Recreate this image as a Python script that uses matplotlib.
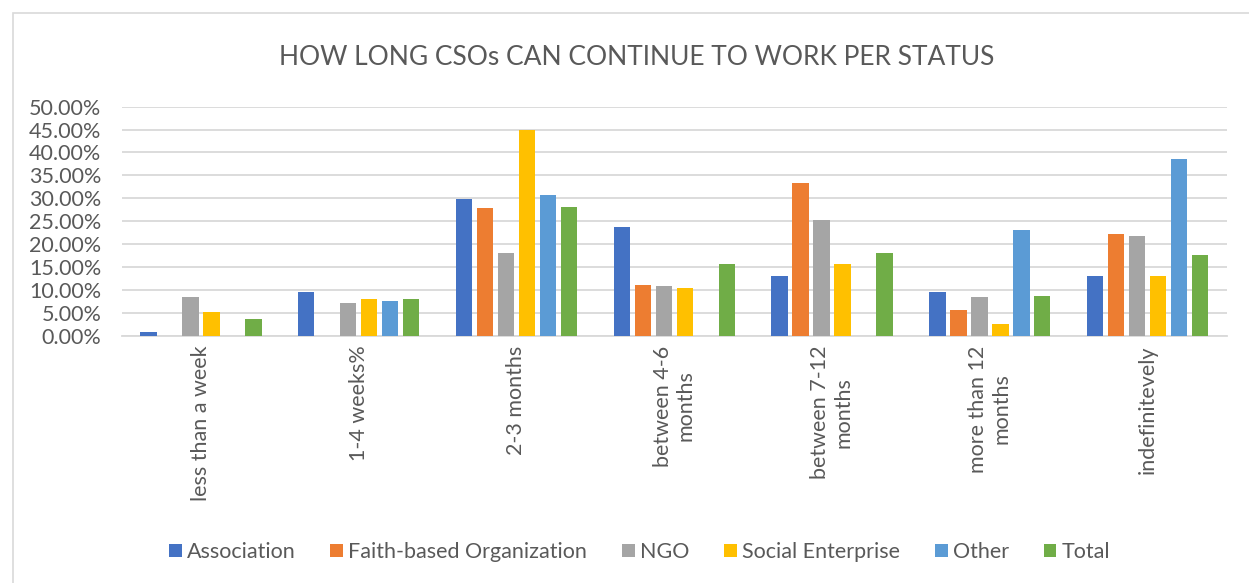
import matplotlib
matplotlib.use("Agg")
import matplotlib.pyplot as plt
from matplotlib.patches import Rectangle
from matplotlib.ticker import FuncFormatter, MultipleLocator
import numpy as np

categories = ["less than a week", "1-4 weeks%", "2-3 months", "between 4-6\nmonths",
              "between 7-12\nmonths", "more than 12\nmonths", "indefinitevely"]

association = [0.7, 9.6, 29.8, 23.7, 13.0, 9.5, 13.0]
faith_based = [0.0, 0.0, 27.8, 11.1, 33.3, 5.5, 22.1]
ngo = [8.4, 7.2, 18.0, 10.8, 25.3, 8.4, 21.8]
social_enterprise = [5.2, 7.9, 44.8, 10.5, 15.7, 2.5, 13.0]
other = [0.0, 7.6, 30.8, 0.0, 0.0, 23.0, 38.5]
total = [3.7, 7.9, 28.2, 15.7, 18.0, 8.6, 17.7]

series_names = ["Association", "Faith-based Organization", "NGO",
                "Social Enterprise", "Other", "Total"]
series_values = [association, faith_based, ngo, social_enterprise, other, total]
colors = ["#4472C4", "#ED7D31", "#A5A5A5", "#FFC000", "#5B9BD5", "#70AD47"]

plt.rcParams["font.family"] = ["Lato", "DejaVu Sans"]
text_color = "#595959"

fig = plt.figure(figsize=(12.49, 5.83), dpi=100)
fig.patches.append(Rectangle((13 / 1249, -0.01), 1.02, 1 - 13 / 583 + 0.01,
                             transform=fig.transFigure, fill=False,
                             edgecolor="#d9d9d9", linewidth=1.2))

ax = fig.add_axes([0.0977, 0.4242, 0.8843, 0.3929])

x = np.arange(len(categories))
slot = 0.133
for i, (name, vals, c) in enumerate(zip(series_names, series_values, colors)):
    offs = (i - 2.5) * slot
    ax.bar(x + offs, np.array(vals) / 100, width=slot * 0.78, color=c,
           label=name, zorder=3)

ax.set_xlim(-0.5, len(categories) - 0.5)
ax.set_ylim(0, 0.5)
ax.yaxis.set_major_locator(MultipleLocator(0.05))
ax.yaxis.set_major_formatter(FuncFormatter(lambda v, p: f"{v * 100:.2f}%"))
ax.grid(axis="y", color="#d9d9d9", linewidth=1.3, zorder=0)
for s in ["top", "right", "left"]:
    ax.spines[s].set_visible(False)
ax.spines["bottom"].set_color("#d9d9d9")
ax.spines["bottom"].set_linewidth(1.3)
ax.tick_params(axis="both", length=0, colors=text_color, labelsize=15.5)
ax.tick_params(axis="y", pad=15)
ax.set_xticks(x)
ax.set_xticklabels(categories, rotation=90, va="top", ha="center",
                   multialignment="center")
ax.tick_params(axis="x", pad=7)

fig.text(0.51, 0.902, "HOW LONG CSOs CAN CONTINUE TO WORK PER STATUS",
         ha="center", va="center", fontsize=19, color=text_color)

leg = fig.legend(loc="center", bbox_to_anchor=(0.512, 0.053), ncol=6,
                 frameon=False, fontsize=15.5, handlelength=0.6, handleheight=0.6,
                 handletextpad=0.25, columnspacing=1.6)
for t in leg.get_texts():
    t.set_color(text_color)

fig.savefig("out.png", dpi=100, facecolor="white")
